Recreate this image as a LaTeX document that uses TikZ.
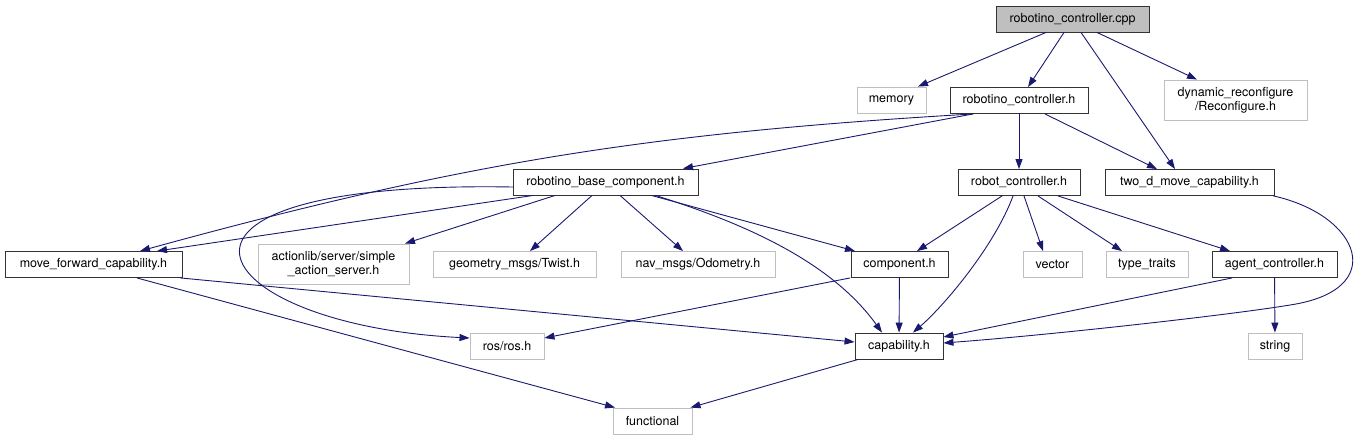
\documentclass[tikz,border=0pt]{standalone}
\usepackage{fontspec}
\setmainfont{TeX Gyre Heros}
\usepackage{tikz}
\usetikzlibrary{arrows.meta}
\definecolor{edgeblue}{HTML}{191970}
\definecolor{boxgray}{HTML}{BFBFBF}

\begin{document}
\begin{tikzpicture}[x=1pt,y=-1pt,>={Triangle[length=10pt,width=7pt]},font=\fontsize{12.5}{14}\selectfont,line cap=round,
  hdr/.style={draw=black!80,line width=0.9pt,fill=white,inner sep=0pt,minimum height=26pt},
  sys/.style={hdr,draw=boxgray},
  dep/.style={->,draw=edgeblue,line width=0.9pt}]
\useasboundingbox (0,0) rectangle (1364,440);
\node[hdr,fill=boxgray,minimum width=153pt] (cpp) at (1072.5,19) {robotino\_controller.cpp};
\node[sys,minimum width=69pt] (memory) at (891.5,100) {memory};
\node[hdr,minimum width=138pt] (rctrlh) at (1019,100.5) {robotino\_controller.h};
\node[sys,minimum width=143pt,minimum height=40pt,align=center] (dynreconf) at (1235.5,100) {dynamic\_reconfigure\\/Reconfigure.h};
\node[hdr,minimum width=185pt] (basecomp) at (605.5,182) {robotino\_base\_component.h};
\node[hdr,minimum width=122pt] (robotctrl) at (1019,182.5) {robot\_controller.h};
\node[hdr,minimum width=169pt] (twodmove) at (1189.5,182.5) {two\_d\_move\_capability.h};
\node[hdr,minimum width=177pt] (moveforward) at (93.5,264.5) {move\_forward\_capability.h};
\node[sys,minimum width=151pt,minimum height=40pt,align=center] (actionlib) at (333.5,264) {actionlib/server/simple\\\_action\_server.h};
\node[sys,minimum width=163pt] (twist) at (514.5,264.5) {geometry\_msgs/Twist.h};
\node[sys,minimum width=154pt] (odometry) at (698,264.5) {nav\_msgs/Odometry.h};
\node[hdr,minimum width=97pt] (component) at (899.5,264.5) {component.h};
\node[sys,minimum width=59pt] (vectorh) at (1052.5,264.5) {vector};
\node[sys,minimum width=82pt] (typetraits) at (1147,264.5) {type\_traits};
\node[hdr,minimum width=125pt] (agentctrl) at (1274.5,264.5) {agent\_controller.h};
\node[hdr,minimum width=88pt] (capability) at (899,346) {capability.h};
\node[sys,minimum width=74pt] (rosh) at (507,346) {ros/ros.h};
\node[sys,minimum width=54pt] (stringh) at (1275,346) {string};
\node[sys,minimum width=79pt] (functional) at (652.5,421) {functional};
\draw[dep] ([xshift=-26.5pt]cpp.south) -- ([xshift=26.5pt]memory.north);
\draw[dep] ([xshift=-8.5pt]cpp.south) -- ([xshift=9pt]rctrlh.north);
\draw[dep] ([xshift=8.5pt]cpp.south) -- ([xshift=-14.5pt]twodmove.north);
\draw[dep] ([xshift=24.5pt]cpp.south) -- ([xshift=-38.5pt]dynreconf.north);
\draw[dep] ([xshift=-46pt]rctrlh.south) to[bend right=6] ([xshift=46.5pt]moveforward.north);
\draw[dep] ([xshift=-46pt]rctrlh.south) -- ([xshift=77.5pt]basecomp.north);
\draw[dep] (rctrlh) -- (robotctrl);
\draw[dep] ([xshift=26pt]rctrlh.south) -- ([xshift=-32.5pt]twodmove.north);
\draw[dep] ([xshift=-72.5pt]basecomp.south) -- ([xshift=63.5pt]moveforward.north);
\draw[dep] ([yshift=-5pt]basecomp.west) .. controls (110,180) and (205,325) .. ([yshift=8pt]rosh.west);
\draw[dep] ([xshift=-50.5pt]basecomp.south) -- ([xshift=71.5pt]actionlib.north);
\draw[dep] ([xshift=-13.5pt]basecomp.south) -- ([xshift=15.5pt]twist.north);
\draw[dep] ([xshift=14.5pt]basecomp.south) -- ([xshift=-15pt]odometry.north);
\draw[dep] ([xshift=46pt]basecomp.south) -- ([xshift=-44.5pt]component.north);
\draw[dep] ([xshift=50pt]basecomp.south) .. controls (740,222) and (830,260) .. ([xshift=-17pt]capability.north);
\draw[dep] ([xshift=-17pt]robotctrl.south) -- ([xshift=17.5pt]component.north);
\draw[dep] ([xshift=-6pt]robotctrl.south) .. controls (995,245) and (945,305) .. ([xshift=14pt]capability.north);
\draw[dep] ([xshift=5pt]robotctrl.south) -- ([xshift=-9.5pt]vectorh.north);
\draw[dep] ([xshift=19pt]robotctrl.south) -- ([xshift=-25pt]typetraits.north);
\draw[dep] ([xshift=39pt]robotctrl.south) -- ([xshift=-44.5pt]agentctrl.north);
\draw[dep] ([xshift=-1pt]twodmove.south east) .. controls (1360,215) and (1390,290) .. (1290,305) .. controls (1230,315) and (1050,335) .. ([yshift=3pt]capability.east);
\draw[dep] ([xshift=-2pt]moveforward.south east) -- ([yshift=4pt]capability.west);
\draw[dep] ([xshift=43.5pt]moveforward.south) -- ([xshift=-37.5pt]functional.north);
\draw[dep] ([xshift=-49.5pt]component.south) -- ([yshift=8pt]rosh.east);
\draw[dep] (component) -- (capability);
\draw[dep] ([xshift=-42.5pt]agentctrl.south) -- ([yshift=9pt]capability.east);
\draw[dep] (agentctrl) -- (stringh);
\draw[dep] ([xshift=-41pt]capability.south) -- ([xshift=38pt]functional.north);
\end{tikzpicture}
\end{document}
